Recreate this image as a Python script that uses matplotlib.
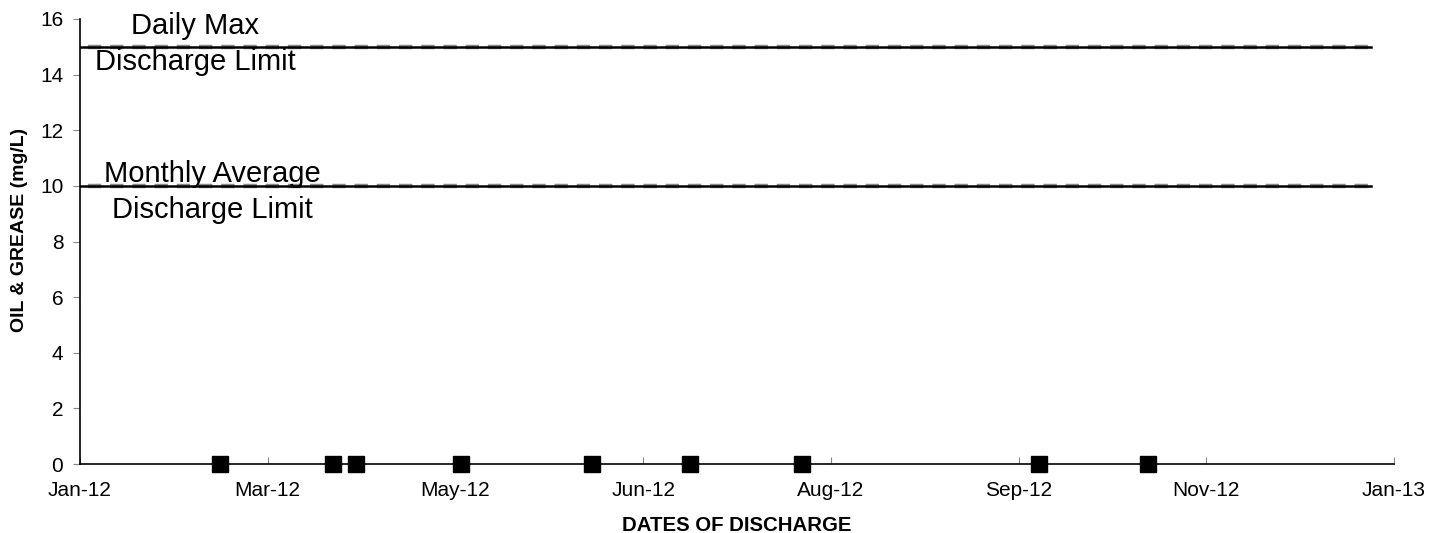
import matplotlib
matplotlib.use("Agg")
import matplotlib.pyplot as plt
import matplotlib.dates as mdates
import numpy as np
import datetime as dt

plt.rcParams['font.family'] = ['Liberation Sans', 'DejaVu Sans']

# Data
sample_dates = ["2012-02-29", "2012-03-30", "2012-04-05", "2012-05-03", "2012-06-07",
                "2012-07-03", "2012-08-02", "2012-10-04", "2012-11-02"]
oil_grease = [0, 0, 0, 0, 0, 0, 0, 0, 0]

limit_dates = ["2012-01-01", "2013-01-01"]
daily_max_limit = [15, 15]
monthly_avg_limit = [10, 10]

axis_start = "2012-01-23"
tick_step_days = 50
n_ticks = 8
y_ticks = [0, 2, 4, 6, 8, 10, 12, 14, 16]

to_dt = lambda s: dt.datetime.strptime(s, "%Y-%m-%d")
xs = [to_dt(s) + dt.timedelta(hours=10) for s in sample_dates]
lx = [to_dt(s) for s in limit_dates]
x0 = to_dt(axis_start)
xticks = [x0 + dt.timedelta(days=tick_step_days * i) for i in range(n_ticks)]

fig = plt.figure(figsize=(14.47, 5.33), dpi=100)
ax = fig.add_axes([80/1447, 1-464/533, (1394-80)/1447, (464-19)/533])

# limit lines
for vals in (daily_max_limit, monthly_avg_limit):
    ax.plot(lx, vals, color='#8a8a8a', lw=3.2, ls=(0, (3, 2)), zorder=2)
    ax.plot(lx, vals, color='black', lw=1.8, zorder=3)

ax.plot(xs, oil_grease, ls='none', marker='s', markersize=11, color='black',
        zorder=5, clip_on=False)

ax.set_xlim(xticks[0], xticks[-1])
ax.set_ylim(0, 16)
ax.set_xticks(xticks)
ax.xaxis.set_major_formatter(mdates.DateFormatter('%b-%y'))
ax.set_yticks(y_ticks)

for s in ('top', 'right'):
    ax.spines[s].set_visible(False)
for s in ('left', 'bottom'):
    ax.spines[s].set_color('black')
    ax.spines[s].set_linewidth(1.2)

ax.tick_params(axis='x', direction='in', length=5, color='#888888', pad=12, labelsize=15)
ax.tick_params(axis='y', direction='out', length=5, color='#888888', pad=7, labelsize=15)

ax.set_xlabel('DATES OF DISCHARGE', fontsize=14.7, fontweight='bold', labelpad=12)
ax.set_ylabel('OIL & GREASE (mg/L)', fontsize=14, fontweight='bold')
ax.yaxis.set_label_coords(-0.0396, 0.526)

# annotations
tx = lambda px: x0 + dt.timedelta(days=(px - 80) / 1314 * 350)
ax.text(tx(195), 15.46, 'Daily Max', fontsize=21, ha='center', va='baseline')
ax.text(tx(195), 14.17, 'Discharge Limit', fontsize=21, ha='center', va='baseline')
ax.text(tx(212), 10.15, 'Monthly Average', fontsize=21, ha='center', va='baseline')
ax.text(tx(212), 8.85, 'Discharge Limit', fontsize=21, ha='center', va='baseline')

fig.savefig('out.png', dpi=100)
